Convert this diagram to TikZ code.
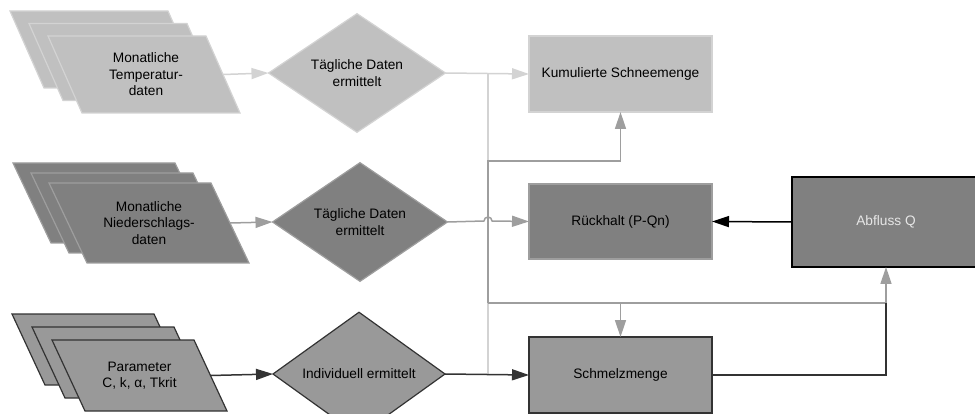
\documentclass[tikz,border=0pt]{standalone}
\usepackage{fontspec}
\setmainfont{Liberation Sans}
\usetikzlibrary{arrows.meta,shapes.geometric}
\definecolor{lightgr}{HTML}{C0C0C0}
\definecolor{lightln}{HTML}{D3D3D3}
\definecolor{midgr}{HTML}{808080}
\definecolor{midln}{HTML}{9E9E9E}
\definecolor{darkfill}{HTML}{999999}
\definecolor{darkln}{HTML}{333333}
\definecolor{abftext}{HTML}{E6E6E6}
\tikzset{decision/.style={diamond,inner sep=0pt,outer sep=0pt,align=center,line width=1.2pt}}
\tikzset{resultbox/.style={rectangle,minimum width=183pt,inner sep=0pt,outer sep=0pt,line width=1.2pt}}
\tikzset{lightrow/.style={fill=lightgr,draw=lightln}}
\tikzset{midrow/.style={fill=midgr,draw=midln}}
\tikzset{darkrow/.style={fill=darkfill,draw=darkln}}
% slanted data sheet: style, centre x, centre y, width, height, slant
\newcommand{\datasheet}[6]{\draw[#1,line width=1.2pt] (#2-#4/2,#3-#5/2) -- ++(#4-#6,0) -- ++(#6,#5) -- ++(-#4+#6,0) -- cycle;}

\begin{document}
\begin{tikzpicture}[x=1pt,y=-1pt,>={Triangle[length=17pt,width=11pt]},font=\fontsize{13.7}{16.5}\selectfont]
\useasboundingbox (0,0) rectangle (975,414);
% \draw[help lines] (0,0) grid (975,414);
\datasheet{lightrow}{106}{49.5}{192}{77}{34}
\datasheet{lightrow}{125}{62}{192}{77}{34}
\datasheet{lightrow}{144}{74.5}{192}{77}{34}
\node (t1) [align=center] at (146,74.5) {Monatliche\\Temperatur-\\daten};
\coordinate (t1e) at (223,74.5);
\datasheet{midrow}{113}{203}{200}{80}{38}
\datasheet{midrow}{131}{213}{200}{80}{38}
\datasheet{midrow}{149}{223}{200}{80}{38}
\node (n1) [align=center] at (149,223) {Monatliche\\Niederschlags-\\daten};
\coordinate (n1e) at (230,223);
\datasheet{darkrow}{99.5}{349.5}{175}{71}{33}
\datasheet{darkrow}{119.5}{362.5}{175}{71}{33}
\datasheet{darkrow}{139.5}{375.5}{175}{71}{33}
\node (p1) [align=center] at (139.5,375.5) {Parameter\\C, k, α, Tkrit};
\coordinate (p1e) at (210.5,375.5);
%
\node (d1) [decision,lightrow,minimum width=177pt,minimum height=87pt] at (357,73) {Tägliche Daten\\ermittelt};
\node (d2) [decision,midrow,minimum width=175pt,minimum height=90pt] at (360,222) {Tägliche Daten\\ermittelt};
\node (d3) [decision,darkrow,minimum width=172pt,minimum height=84pt] at (359,374) {Individuell ermittelt};
%
\node (kum) [resultbox,lightrow,minimum height=76pt] at (620.5,74) {Kumulierte Schneemenge};
\node (rue) [resultbox,midrow,minimum height=75pt] at (620.5,221.5) {Rückhalt (P-Qn)};
\node (sch) [resultbox,darkrow,minimum height=76pt] at (620.5,375) {Schmelzmenge};
\node (abf) [rectangle,fill=midgr,draw=black,line width=2pt,inner sep=0pt,outer sep=0pt,minimum width=188pt,minimum height=90pt,text=abftext] at (886,222) {Abfluss Q};
%
\coordinate (jt) at (488,73);
\coordinate (j1) at (488,161);
\coordinate (j2) at (488,303);
\coordinate (jb) at (488,374);
\coordinate (hop) at (488,221);
\coordinate (j3) at (abf.south |- j2);
%
\path[->,line width=1.5pt,lightln](t1e) edge (d1.west);
\path[->,line width=1.5pt,lightln](d1.east) edge (kum.west);
\path[-,line width=1.5pt,lightln](jt) edge (jb);
\path[->,line width=1.5pt,midln](n1e) edge (d2.west);
\draw[->,line width=1.5pt,midln](j2) -- (j1) -| (kum.south);
\draw[-,line width=1.5pt,midln](j2) -- (j3);
\draw[->,line width=1.5pt,midln](sch.north |- j2) -- (sch.north);
\draw[->,line width=1.5pt,midln](j3) -- (abf.south);
\draw[->,line width=1.5pt,midln](d2.east) -- ([xshift=-4pt]hop) arc[start angle=180,end angle=0,radius=4pt] -- (rue.west);
\path[->,line width=1.5pt,darkln](p1e) edge (d3.west);
\path[->,line width=1.5pt,darkln](d3.east) edge (sch.west);
\draw[-,line width=1.5pt,darkln](sch.east) -| (j3);
\path[->,line width=1.5pt,black](abf.west) edge (rue.east);
\end{tikzpicture}
\end{document}
